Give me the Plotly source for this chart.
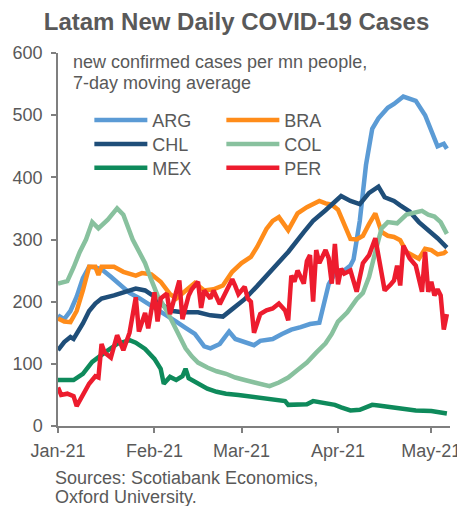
import plotly.graph_objects as go

# ---------------- data ----------------
arg_dates = ["2021-01-01","2021-01-03","2021-01-05","2021-01-07","2021-01-09","2021-01-11","2021-01-13","2021-01-15",
             "2021-01-18","2021-01-21","2021-01-24","2021-01-27","2021-01-30","2021-02-02","2021-02-05","2021-02-08",
             "2021-02-11","2021-02-14","2021-02-17","2021-02-19","2021-02-22","2021-02-24","2021-02-25","2021-02-27",
             "2021-03-02","2021-03-05","2021-03-07","2021-03-11","2021-03-14","2021-03-17","2021-03-20","2021-03-23",
             "2021-03-26","2021-03-28","2021-03-29","2021-03-31","2021-04-03","2021-04-05","2021-04-06","2021-04-08",
             "2021-04-10","2021-04-12","2021-04-14","2021-04-17","2021-04-19","2021-04-22","2021-04-24","2021-04-26",
             "2021-04-29","2021-05-01","2021-05-03","2021-05-04","2021-05-05","2021-05-06"]
arg_vals = [178,172,185,208,238,256,255,252,240,228,214,206,197,188,178,168,158,148,128,125,132,146,152,140,
            135,130,137,140,148,155,159,164,166,210,228,245,250,258,268,330,420,478,495,512,518,530,526,523,
            500,475,450,452,454,446]

bra_dates = ["2021-01-01","2021-01-03","2021-01-05","2021-01-07","2021-01-09","2021-01-11","2021-01-13","2021-01-14",
             "2021-01-15","2021-01-19","2021-01-22","2021-01-26","2021-01-28","2021-01-31","2021-02-03","2021-02-06",
             "2021-02-08","2021-02-11","2021-02-14","2021-02-17","2021-02-20","2021-02-23","2021-02-26","2021-03-01",
             "2021-03-04","2021-03-06","2021-03-09","2021-03-11","2021-03-13","2021-03-16","2021-03-19","2021-03-22",
             "2021-03-24","2021-03-26","2021-03-28","2021-03-30","2021-04-01","2021-04-03","2021-04-05","2021-04-07",
             "2021-04-09","2021-04-11","2021-04-13","2021-04-15","2021-04-17","2021-04-19","2021-04-21","2021-04-23",
             "2021-04-25","2021-04-27","2021-04-29","2021-05-01","2021-05-03","2021-05-05","2021-05-06"]
bra_vals = [173,168,167,185,218,256,256,243,256,256,248,242,246,244,232,212,205,218,230,218,220,226,248,262,
            272,288,317,330,336,315,342,352,358,362,358,356,348,325,301,300,306,325,342,312,306,304,299,280,
            274,269,285,283,276,278,282]

chl_dates = ["2021-01-01","2021-01-03","2021-01-05","2021-01-06","2021-01-09","2021-01-11","2021-01-13","2021-01-15",
             "2021-01-19","2021-01-23","2021-01-26","2021-01-29","2021-02-01","2021-02-04","2021-02-07","2021-02-10",
             "2021-02-15","2021-02-19","2021-02-23","2021-02-26","2021-03-02","2021-03-06","2021-03-11","2021-03-16",
             "2021-03-21","2021-03-24","2021-03-28","2021-03-31","2021-04-02","2021-04-05","2021-04-08","2021-04-11",
             "2021-04-14","2021-04-16","2021-04-19","2021-04-21","2021-04-24","2021-04-27","2021-05-01","2021-05-03",
             "2021-05-06"]
chl_vals = [122,135,143,140,165,185,197,205,210,216,221,218,208,193,185,183,183,178,176,188,204,225,253,280,
            312,330,347,362,370,362,357,375,385,368,362,355,345,328,312,302,287]

col_dates = ["2021-01-01","2021-01-04","2021-01-06","2021-01-08","2021-01-10","2021-01-12","2021-01-14","2021-01-17",
             "2021-01-20","2021-01-22","2021-01-25","2021-01-27","2021-01-29","2021-01-31","2021-02-02","2021-02-05",
             "2021-02-07","2021-02-09","2021-02-11","2021-02-13","2021-02-15","2021-02-18","2021-02-21","2021-02-24",
             "2021-02-27","2021-03-02","2021-03-05","2021-03-08","2021-03-10","2021-03-13","2021-03-16","2021-03-19",
             "2021-03-22","2021-03-25","2021-03-28","2021-03-30","2021-04-01","2021-04-04","2021-04-07","2021-04-09",
             "2021-04-11","2021-04-13","2021-04-15","2021-04-17","2021-04-20","2021-04-23","2021-04-25","2021-04-28",
             "2021-04-30","2021-05-02","2021-05-04","2021-05-06"]
col_vals = [229,233,255,280,300,328,318,332,350,340,300,280,262,235,210,185,165,143,125,112,102,94,88,84,
            78,74,70,66,64,70,78,90,102,118,133,148,168,183,204,214,240,280,318,328,326,340,342,346,
            340,337,328,309]

mex_dates = ["2021-01-01","2021-01-06","2021-01-09","2021-01-12","2021-01-16","2021-01-20","2021-01-24","2021-01-26",
             "2021-01-29","2021-02-01","2021-02-03","2021-02-04","2021-02-06","2021-02-08","2021-02-10","2021-02-11",
             "2021-02-12","2021-02-15","2021-02-18","2021-02-21","2021-02-24","2021-02-28","2021-03-03","2021-03-07",
             "2021-03-12","2021-03-15","2021-03-16","2021-03-22","2021-03-24","2021-03-27","2021-03-31","2021-04-02",
             "2021-04-05","2021-04-08","2021-04-12","2021-04-14","2021-04-18","2021-04-22","2021-04-26","2021-05-01",
             "2021-05-05","2021-05-06"]
mex_vals = [74,74,84,103,118,132,138,134,124,108,92,68,79,74,80,92,77,68,60,55,52,50,48,44,
            42,40,34,35,40,38,34,30,25,26,34,33,30,28,25,24,22,20]

per_dates = ["2021-01-01","2021-01-02","2021-01-04","2021-01-06","2021-01-07","2021-01-09","2021-01-11","2021-01-13",
             "2021-01-14","2021-01-15","2021-01-16","2021-01-18","2021-01-20","2021-01-22","2021-01-24","2021-01-26",
             "2021-01-27","2021-01-29","2021-01-30","2021-02-01","2021-02-02","2021-02-03","2021-02-05","2021-02-06",
             "2021-02-07","2021-02-09","2021-02-10","2021-02-12","2021-02-13","2021-02-15","2021-02-16","2021-02-17",
             "2021-02-19","2021-02-20","2021-02-22","2021-02-24","2021-02-26","2021-02-27","2021-02-28","2021-03-02",
             "2021-03-03","2021-03-04","2021-03-05","2021-03-07","2021-03-09","2021-03-11","2021-03-13","2021-03-15",
             "2021-03-16","2021-03-17","2021-03-18","2021-03-19","2021-03-21","2021-03-22","2021-03-23","2021-03-24",
             "2021-03-25","2021-03-26","2021-03-28","2021-03-29","2021-03-30","2021-03-31","2021-04-01","2021-04-02",
             "2021-04-03","2021-04-05","2021-04-07","2021-04-09","2021-04-11","2021-04-13","2021-04-15","2021-04-16",
             "2021-04-18","2021-04-19","2021-04-20","2021-04-21","2021-04-22","2021-04-24","2021-04-26","2021-04-28",
             "2021-04-29","2021-04-30","2021-05-01","2021-05-02","2021-05-03","2021-05-04","2021-05-05","2021-05-06"]
per_vals = [62,50,52,48,32,50,68,80,78,132,118,110,146,122,150,207,152,182,157,215,168,205,213,180,
            200,234,172,210,220,232,190,218,205,218,196,215,236,225,212,224,205,200,150,180,186,189,197,186,
            170,242,232,250,229,265,275,200,283,262,283,270,229,293,228,253,245,250,216,262,275,302,248,218,
            228,234,258,226,290,270,258,216,280,216,232,210,220,210,155,180]

series_names = ["ARG", "BRA", "CHL", "COL", "MEX", "PER"]
series_dates = [arg_dates, bra_dates, chl_dates, col_dates, mex_dates, per_dates]
series_vals = [arg_vals, bra_vals, chl_vals, col_vals, mex_vals, per_vals]
series_colors = ["#5B9BD5", "#FF8C1A", "#1F4E79", "#88C19E", "#0E8A5B", "#ED1C2E"]
# legend rows: (ARG, BRA), (CHL, COL), (MEX, PER)
series_legend = ["legend", "legend", "legend2", "legend2", "legend3", "legend3"]

x_tick_vals = ["2021-01-01", "2021-02-01", "2021-03-01", "2021-04-01", "2021-05-01"]
x_tick_text = ["Jan-21", "Feb-21", "Mar-21", "Apr-21", "May-21"]
y_tick_vals = [0, 100, 200, 300, 400, 500, 600]

title_text = "Latam New Daily COVID-19 Cases"
subtitle_lines = ["new confirmed cases per mn people,", "7-day moving average"]
source_lines = ["Sources: Scotiabank Economics,", "Oxford University."]

# ---------------- figure ----------------
GRAY = "#595959"
AXIS = "#7F7F7F"
FONT = "Liberation Sans, Arial, sans-serif"

fig = go.Figure()
for name, d, v, c, lg in zip(series_names, series_dates, series_vals, series_colors, series_legend):
    fig.add_trace(go.Scatter(x=d, y=v, mode="lines", name=name, legend=lg,
                             line=dict(color=c, width=4.5)))

legend_common = dict(orientation="h", yanchor="top", xanchor="left", x=0.080,
                     entrywidth=64, entrywidthmode="pixels",
                     itemwidth=53, font=dict(size=18, color=GRAY, family=FONT),
                     bgcolor="rgba(0,0,0,0)", borderwidth=0, tracegroupgap=0)

annotations = []
for i, line in enumerate(subtitle_lines):
    annotations.append(dict(text=line, xref="paper", yref="paper", x=0.034, y=[0.976, 0.920][i],
                            xanchor="left", yanchor="middle", align="left", showarrow=False,
                            font=dict(size=18, color=GRAY, family=FONT)))
for i, line in enumerate(source_lines):
    annotations.append(dict(text=line, xref="paper", yref="paper", x=-0.014, y=[-0.139, -0.190][i],
                            xanchor="left", yanchor="middle", align="left", showarrow=False,
                            font=dict(size=18, color=GRAY, family=FONT)))

fig.update_layout(
    width=457, height=498,
    margin=dict(l=50, r=15, t=45, b=80),
    paper_bgcolor="white", plot_bgcolor="white",
    font=dict(family=FONT, size=18, color=GRAY),
    title=dict(text="<b>" + title_text + "</b>", x=0.5, xanchor="center", xref="container",
               y=0.972, yanchor="middle", font=dict(size=24, color=GRAY, family=FONT)),
    showlegend=True,
    legend=dict(y=0.869, **legend_common),
    legend2=dict(y=0.805, **legend_common),
    legend3=dict(y=0.741, **legend_common),
    xaxis=dict(type="date", range=["2021-01-01", "2021-05-07"], automargin=False,
               tickmode="array", tickvals=x_tick_vals, ticktext=x_tick_text,
               showgrid=False, zeroline=False, showline=True, linecolor=AXIS, linewidth=1.5,
               ticks="outside", ticklen=5, tickcolor=AXIS, tickwidth=1.5, ticklabelstandoff=3,
               tickfont=dict(size=18, color=GRAY, family=FONT)),
    yaxis=dict(range=[0, 600], tickmode="array", tickvals=y_tick_vals, automargin=False,
               showgrid=False, zeroline=False, showline=True, linecolor=AXIS, linewidth=1.5,
               ticks="outside", ticklen=5, tickcolor=AXIS, tickwidth=1.5, ticklabelstandoff=5,
               tickfont=dict(size=18, color=GRAY, family=FONT)),
    annotations=annotations,
)

fig.write_html("out.html")
